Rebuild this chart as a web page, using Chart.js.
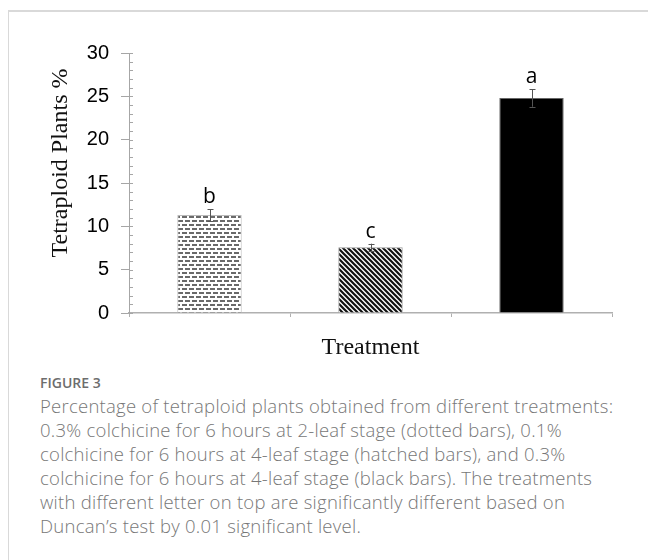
<!DOCTYPE html>
<html>
<head>
<meta charset="utf-8">
<script src="https://cdn.jsdelivr.net/npm/chart.js@4"></script>
<style>
  body { margin: 0; background: #fff; width: 648px; height: 560px; overflow: hidden; position: relative; }
  .card { position: absolute; left: 8px; top: 10px; width: 700px; height: 600px; border-top: 2px solid #d9d9d9; border-left: 1.5px solid #d9d9d9; }
  #wrap { position: absolute; left: 0; top: 0; width: 648px; height: 370px; }
  .fig { position: absolute; left: 40px; top: 373px; font-family: "Open Sans", sans-serif; font-weight: 600; font-size: 14px; color: #6d6d6d; }
  .cap { position: absolute; left: 40px; top: 394px; font-family: "Open Sans", sans-serif; font-weight: 300; font-size: 18.5px; letter-spacing: 0.25px; line-height: 24px; color: #777; white-space: nowrap; }
</style>
</head>
<body>
<div class="card"></div>
<div id="wrap"><canvas id="chart"></canvas></div>
<div class="fig">FIGURE 3</div>
<div class="cap">Percentage of tetraploid plants obtained from different treatments:<br>0.3% colchicine for 6 hours at 2-leaf stage (dotted bars), 0.1%<br>colchicine for 6 hours at 4-leaf stage (hatched bars), and 0.3%<br>colchicine for 6 hours at 4-leaf stage (black bars). The treatments<br>with different letter on top are significantly different based on<br>Duncan’s test by 0.01 significant level.</div>
<script>
// values
const categories = ['0.3% 2-leaf', '0.1% 4-leaf', '0.3% 4-leaf'];
const values = [11.3, 7.6, 24.8];
const errors = [0.7, 0.4, 1.0];
const letters = ['b', 'c', 'a'];
const yMin = 0, yMax = 30, yStep = 5;

function dotPattern() {
  const c = document.createElement('canvas');
  c.width = 7; c.height = 8;
  const g = c.getContext('2d');
  g.fillStyle = '#fff';
  g.fillRect(0, 0, 7, 8);
  g.fillStyle = '#6a6a6a';
  g.fillRect(0, 0, 5, 2);
  g.fillRect(3, 4, 4, 2);
  g.fillRect(0, 4, 1, 2);
  return g.createPattern(c, 'repeat');
}

function hatchPattern() {
  const c = document.createElement('canvas');
  c.width = 5; c.height = 5;
  const g = c.getContext('2d');
  g.fillStyle = '#fff';
  g.fillRect(0, 0, 5, 5);
  g.strokeStyle = '#111';
  g.lineWidth = 2.2;
  g.beginPath();
  g.moveTo(-1, -1); g.lineTo(6, 6);
  g.moveTo(-1, 4); g.lineTo(1, 6);
  g.moveTo(4, -1); g.lineTo(6, 1);
  g.stroke();
  return g.createPattern(c, 'repeat');
}

const fills = [dotPattern(), hatchPattern(), '#000'];

const extras = {
  id: 'extras',
  afterDatasetsDraw(chart) {
    const ctx = chart.ctx;
    const y = chart.scales.y;
    const meta = chart.getDatasetMeta(0);
    const left = chart.chartArea.left;
    ctx.save();
    // minor / inner ticks on the y axis
    ctx.strokeStyle = '#a6a6a6';
    ctx.lineWidth = 1;
    for (let v = yMin; v <= yMax; v++) {
      const py = Math.round(y.getPixelForValue(v)) + 0.5;
      ctx.beginPath();
      ctx.moveTo(left, py);
      ctx.lineTo(left + 4, py);
      ctx.stroke();
    }
    // error bars and letters
    meta.data.forEach((bar, i) => {
      const x = Math.round(bar.x) + 0.5;
      const top = y.getPixelForValue(values[i] + errors[i]);
      const bot = y.getPixelForValue(values[i] - errors[i]);
      ctx.strokeStyle = '#555';
      ctx.beginPath();
      ctx.moveTo(x, top); ctx.lineTo(x, bot);
      ctx.moveTo(x - 3, Math.round(top) + 0.5); ctx.lineTo(x + 3, Math.round(top) + 0.5);
      ctx.moveTo(x - 3, Math.round(bot) + 0.5); ctx.lineTo(x + 3, Math.round(bot) + 0.5);
      ctx.stroke();
      ctx.fillStyle = '#000';
      ctx.font = '21px "Open Sans", sans-serif';
      ctx.textAlign = 'center';
      ctx.textBaseline = 'alphabetic';
      ctx.fillText(letters[i], bar.x, top - 6);
    });
    // axis titles
    ctx.fillStyle = '#111';
    ctx.font = '24px "Liberation Serif", serif';
    ctx.textAlign = 'center';
    ctx.textBaseline = 'middle';
    ctx.fillText('Treatment', (chart.chartArea.left + chart.chartArea.right) / 2, 348);
    ctx.translate(61, 163);
    ctx.rotate(-Math.PI / 2);
    ctx.fillText('Tetraploid Plants %', 0, 0);
    ctx.restore();
  }
};

new Chart(document.getElementById('chart'), {
  type: 'bar',
  data: {
    labels: categories,
    datasets: [{
      data: values,
      backgroundColor: fills,
      borderColor: ['#bbb', '#999', '#666'],
      borderWidth: 1,
      barPercentage: 0.4,
      categoryPercentage: 1
    }]
  },
  options: {
    responsive: true,
    maintainAspectRatio: false,
    animation: false,
    layout: { padding: { top: 53, right: 36, left: 0, bottom: 0 } },
    plugins: { legend: { display: false }, tooltip: { enabled: false } },
    scales: {
      x: {
        offset: true,
        border: { color: '#b0b0b0', width: 1.5 },
        grid: { offset: true, drawOnChartArea: false, tickLength: 4, color: '#b0b0b0' },
        ticks: { display: false },
        afterFit: s => { s.height = 57; }
      },
      y: {
        min: yMin, max: yMax,
        border: { color: '#a6a6a6', width: 1 },
        grid: { drawOnChartArea: false, tickLength: 8, color: '#a6a6a6' },
        ticks: { stepSize: yStep, padding: 12, color: '#000', font: { family: '"Liberation Sans", Arial', size: 20 } },
        afterFit: s => { s.width = 129; }
      }
    }
  },
  plugins: [extras]
});
</script>
</body>
</html>
